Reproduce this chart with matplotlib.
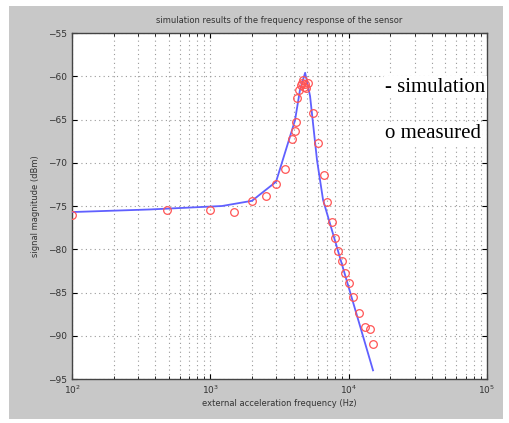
import matplotlib
matplotlib.use('Agg')
import matplotlib.pyplot as plt
from matplotlib.patches import Rectangle
from matplotlib.ticker import LogLocator, NullFormatter

# simulated response (frequency in Hz, magnitude in dBm)
sim_freq = [100, 366, 1216, 2000, 2985, 4093, 4456, 4845, 5260, 5904, 6530, 15000]
sim_mag = [-75.7, -75.4, -75.0, -74.4, -72.2, -65.1, -61.5, -59.6, -62.3, -69.7, -74.3, -94.0]

# measured points
meas_freq = [100, 489, 996, 1483, 2000, 2531, 2985, 3467, 3873, 4093, 4166, 4256,
             4400, 4500, 4580, 4650, 4750, 4850, 4950, 5050,
             5495, 6040, 6640, 6950, 7550, 7980, 8440, 8920, 9420, 10120,
             10810, 11890, 13140, 14300, 15110]
meas_mag = [-76.0, -75.5, -75.46, -75.7, -74.4, -73.8, -72.4, -70.76, -67.2, -66.3, -65.25, -62.55,
            -61.6, -61.0, -60.8, -60.4, -61.2, -60.9, -61.4, -60.8,
            -64.2, -67.75, -71.4, -74.5, -76.9, -78.7, -80.2, -81.4, -82.8, -83.9,
            -85.55, -87.4, -88.95, -89.25, -90.95]

y_ticks = [-95, -90, -85, -80, -75, -70, -65, -60, -55]

fig = plt.figure(figsize=(5.09, 4.23), dpi=100, facecolor='white')
# grey window background
fig.patches.append(Rectangle((9 / 509, 4 / 423), 494 / 509, 413 / 423,
                             transform=fig.transFigure, facecolor='#c8c8c8',
                             edgecolor='none', zorder=-10))

ax = fig.add_axes([72 / 509, 44 / 423, 415 / 509, 346 / 423])
ax.set_facecolor('white')

ax.plot(sim_freq, sim_mag, color='#6060ff', linewidth=1.3, zorder=3)
ax.plot(meas_freq, meas_mag, linestyle='none', marker='o', markersize=5.5,
        markerfacecolor='none', markeredgecolor='#ff5555', markeredgewidth=0.9, zorder=4)

ax.set_xscale('log')
ax.set_xlim(1e2, 1e5)
ax.set_ylim(-95, -55)
ax.set_yticks(y_ticks)
ax.xaxis.set_minor_locator(LogLocator(base=10, subs=range(2, 10)))
ax.xaxis.set_minor_formatter(NullFormatter())

# sparse dotted matlab-like grid
ax.grid(True, which='major', linestyle=(0, (1, 3)), color='#999999', linewidth=0.8)
ax.grid(True, which='minor', axis='x', linestyle=(0, (1, 3)), color='#999999', linewidth=0.8)

ax.tick_params(which='both', direction='in', labelsize=6.5, labelcolor='#333333',
               top=True, right=True)
ax.tick_params(which='minor', length=2)
for s in ax.spines.values():
    s.set_color('#444444')
    s.set_linewidth(1.0)

ax.set_title('simulation results of the frequency response of the sensor',
             fontsize=6, color='#333333', pad=7)
ax.set_xlabel('external acceleration frequency (Hz)', fontsize=6, color='#333333', labelpad=2)
ax.set_ylabel('signal magnitude (dBm)', fontsize=6, color='#333333', labelpad=6)

# legend-like labels
fig.text(385 / 509, 1 - 87 / 423, '- simulation', family='Liberation Serif',
         fontsize=15, va='center', ha='left', zorder=10,
         bbox=dict(facecolor='white', edgecolor='none', pad=1))
fig.text(385 / 509, 1 - 133 / 423, 'o measured', family='Liberation Serif',
         fontsize=15, va='center', ha='left', zorder=10,
         bbox=dict(facecolor='white', edgecolor='none', pad=1))

plt.savefig('out.png', dpi=100, facecolor='white')
